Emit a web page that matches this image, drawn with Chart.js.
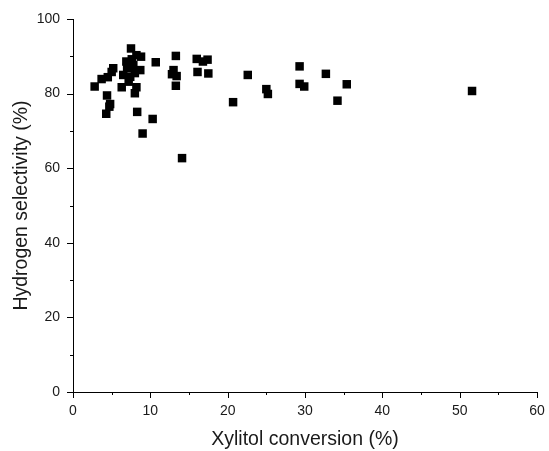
<!DOCTYPE html>
<html>
<head>
<meta charset="utf-8">
<script src="https://cdn.jsdelivr.net/npm/chart.js@4.4.0/dist/chart.umd.min.js"></script>
<style>
  html, body { margin: 0; padding: 0; background: #ffffff; }
  #wrap { width: 549px; height: 451px; }
</style>
</head>
<body>
<div id="wrap"><canvas id="scatterChart" width="549" height="451"></canvas></div>
<script>
// =================================================================
// DATA
// =================================================================
const xylitolConversion = [
  2.8, 3.7, 4.5, 5.0, 5.2, 4.4, 4.8, 4.7, 4.3,
  7.5, 8.2, 8.8, 6.9, 7.8, 8.7, 6.5, 7.4, 7.2, 6.3, 8.2, 8.0, 7.3, 7.0, 7.6, 8.0,
  8.3, 10.3, 9.0, 10.7,
  13.3, 13.0, 12.8, 13.4, 13.3, 14.1,
  16.0, 16.8, 17.4, 16.1, 17.5,
  22.6, 20.7, 25.0, 25.2,
  29.3, 29.3, 29.9, 32.7, 35.4, 34.2,
  51.6
];
const hydrogenSelectivity = [
  81.9, 83.9, 84.4, 85.8, 86.8, 79.5, 77.2, 76.5, 74.6,
  92.1, 90.3, 89.9, 88.6, 87.7, 86.3, 85.0, 84.5, 83.2, 81.7, 81.7, 80.1, 86.8, 87.0, 89.2, 85.5,
  75.1, 73.2, 69.3, 88.4,
  90.1, 86.3, 85.2, 84.7, 82.1, 62.7,
  89.3, 88.6, 89.1, 85.8, 85.4,
  85.0, 77.7, 81.2, 79.9,
  87.3, 82.6, 81.9, 85.3, 82.5, 78.1,
  80.7
];
const xTickValues = [0, 10, 20, 30, 40, 50, 60];
const yTickValues = [0, 20, 40, 60, 80, 100];

const points = xylitolConversion.map((x, i) => ({ x: x, y: hydrogenSelectivity[i] }));

// =================================================================
// PLUGIN: axis lines with major/minor tick marks (outward)
// =================================================================
const axisTicksPlugin = {
  id: 'axisTicks',
  afterDraw(chart) {
    const ctx = chart.ctx;
    const xs = chart.scales.x;
    const ys = chart.scales.y;
    const area = chart.chartArea;
    ctx.save();
    ctx.strokeStyle = '#000000';
    ctx.lineWidth = 1;
    ctx.beginPath();
    // axis lines
    ctx.moveTo(area.left + 0.5, area.top);
    ctx.lineTo(area.left + 0.5, area.bottom + 0.5);
    ctx.lineTo(area.right, area.bottom + 0.5);
    // x ticks every 5, major every 10
    for (let v = xs.min; v <= xs.max; v += 5) {
      const px = Math.round(xs.getPixelForValue(v)) + 0.5;
      const len = (v % 10 === 0) ? 6 : 3;
      ctx.moveTo(px, area.bottom);
      ctx.lineTo(px, area.bottom + len);
    }
    // y ticks every 10, major every 20
    for (let v = ys.min; v <= ys.max; v += 10) {
      const py = Math.round(ys.getPixelForValue(v)) + 0.5;
      const len = (v % 20 === 0) ? 6 : 3;
      ctx.moveTo(area.left, py);
      ctx.lineTo(area.left - len, py);
    }
    ctx.stroke();
    ctx.restore();
  }
};

// =================================================================
// CHART
// =================================================================
const tickFont = { family: 'Arial, "Liberation Sans", sans-serif', size: 14 };
const titleFont = { family: 'Arial, "Liberation Sans", sans-serif', size: 19.5 };

new Chart(document.getElementById('scatterChart').getContext('2d'), {
  type: 'scatter',
  data: {
    datasets: [{
      label: 'Hydrogen selectivity',
      data: points,
      pointStyle: 'rect',
      pointRadius: 6,
      pointHoverRadius: 6,
      backgroundColor: '#000000',
      borderColor: '#000000',
      borderWidth: 0
    }]
  },
  options: {
    responsive: false,
    animation: false,
    events: [],
    layout: { padding: { top: 19, right: 12, bottom: 0, left: 0 } },
    plugins: {
      legend: { display: false },
      tooltip: { enabled: false }
    },
    scales: {
      x: {
        type: 'linear',
        min: 0,
        max: 60,
        afterFit: (s) => { s.height = 59; s.paddingLeft = 0; s.paddingRight = 0; },
        afterBuildTicks: (s) => { s.ticks = xTickValues.map(v => ({ value: v })); },
        grid: { display: false, drawTicks: false },
        border: { display: false },
        ticks: { color: '#1a1a1a', font: tickFont, padding: 11, maxRotation: 0 },
        title: {
          display: true,
          text: 'Xylitol conversion (%)',
          color: '#1a1a1a',
          font: titleFont,
          padding: { top: 0, bottom: 0 }
        }
      },
      y: {
        type: 'linear',
        min: 0,
        max: 100,
        afterFit: (s) => { s.width = 73; s.paddingTop = 0; s.paddingBottom = 0; },
        afterBuildTicks: (s) => { s.ticks = yTickValues.map(v => ({ value: v })); },
        grid: { display: false, drawTicks: false },
        border: { display: false },
        ticks: { color: '#1a1a1a', font: tickFont, padding: 13 },
        title: {
          display: true,
          text: 'Hydrogen selectivity (%)',
          color: '#1a1a1a',
          font: titleFont,
          padding: { top: 10, bottom: 0 }
        }
      }
    }
  },
  plugins: [axisTicksPlugin]
});
</script>
</body>
</html>
